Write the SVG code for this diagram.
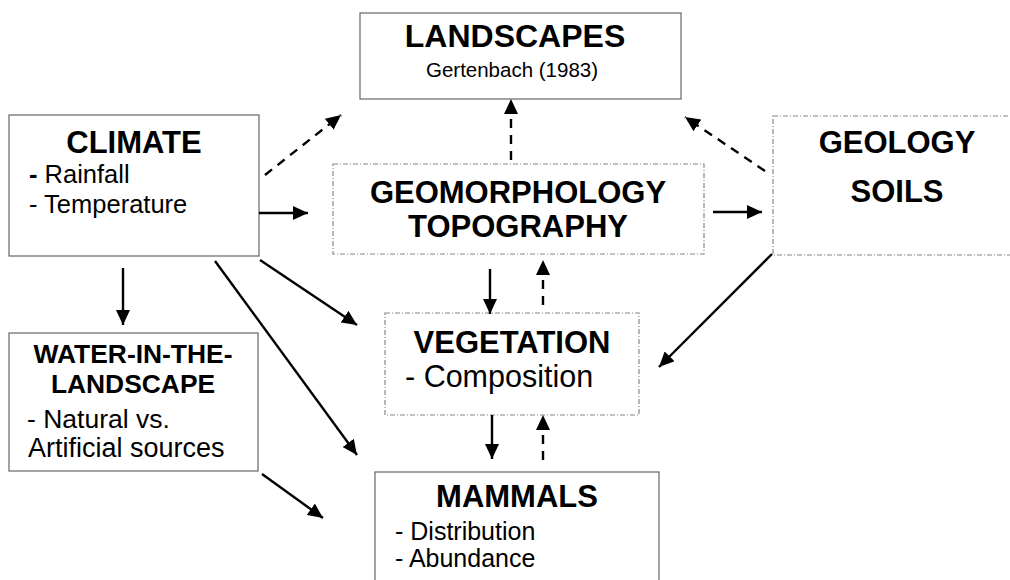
<svg xmlns="http://www.w3.org/2000/svg" width="1010" height="580" viewBox="0 0 1010 580">
<defs>
<marker id="ah" markerUnits="userSpaceOnUse" markerWidth="16" markerHeight="14" refX="15" refY="7" orient="auto">
<path d="M0,0 L15,7 L0,14 z" fill="#000"/>
</marker>
<style>
.box{fill:#fff;stroke:#666;stroke-width:1.2}
.dbox{fill:#fff;stroke:#888;stroke-width:1.2;stroke-dasharray:5 2 1 2}
.t{font-family:"Liberation Sans",Arial,sans-serif;font-weight:bold;font-size:31px;fill:#000;text-anchor:middle}
.tw{font-family:"Liberation Sans",Arial,sans-serif;font-weight:bold;font-size:26.4px;fill:#000;text-anchor:middle}
.s{font-family:"Liberation Sans",Arial,sans-serif;font-size:25.5px;fill:#000}
.c{stroke:#000;stroke-width:2.4;fill:none;marker-end:url(#ah)}
.d{stroke:#000;stroke-width:2.4;fill:none;stroke-dasharray:9 7;marker-end:url(#ah)}
</style>
</defs>
<rect width="1010" height="580" fill="#fff"/>
<g id="landscapes">
<rect class="box" x="360" y="13" width="321" height="86"/>
<text class="t" x="515" y="47" style="font-size:32px">LANDSCAPES</text>
<text class="s" x="512" y="77" text-anchor="middle" style="font-size:20.5px">Gertenbach (1983)</text>
</g>
<g id="climate">
<rect class="box" x="9" y="115" width="250" height="141"/>
<text class="t" x="134" y="153">CLIMATE</text>
<text class="s" x="29" y="183"><tspan font-weight="bold">-</tspan> Rainfall</text>
<text class="s" x="29" y="213">- Temperature</text>
</g>
<g id="geomorphology">
<rect class="dbox" x="333" y="164" width="371" height="90"/>
<text class="t" x="518" y="203">GEOMORPHOLOGY</text>
<text class="t" x="518" y="237">TOPOGRAPHY</text>
</g>
<g id="geology">
<rect class="dbox" x="773" y="116" width="260" height="139"/>
<text class="t" x="897" y="153">GEOLOGY</text>
<text class="t" x="897" y="202">SOILS</text>
</g>
<g id="water">
<rect class="box" x="9" y="333" width="249" height="138"/>
<text class="tw" x="133" y="363">WATER-IN-THE-</text>
<text class="tw" x="133" y="393">LANDSCAPE</text>
<text class="s" x="27" y="428" style="font-size:26.5px">- Natural vs.</text>
<text class="s" x="28" y="457" style="font-size:27px">Artificial sources</text>
</g>
<g id="vegetation">
<rect class="dbox" x="385" y="313" width="254" height="102"/>
<text class="t" x="512" y="353">VEGETATION</text>
<text class="s" x="405" y="387" style="font-size:30.5px">- Composition</text>
</g>
<g id="mammals">
<rect class="box" x="375" y="472" width="284" height="130"/>
<text class="t" x="517" y="507">MAMMALS</text>
<text class="s" x="395" y="540" style="font-size:25px">- Distribution</text>
<text class="s" x="395" y="567" style="font-size:25px">- Abundance</text>
</g>
<g id="connectors">
<line class="d" x1="265" y1="175" x2="341" y2="115"/>
<line class="d" x1="511" y1="160" x2="511" y2="99"/>
<line class="d" x1="765" y1="171" x2="685" y2="117"/>
<line class="c" x1="259" y1="213" x2="308" y2="213"/>
<line class="c" x1="713" y1="212" x2="762" y2="212"/>
<line class="c" x1="490" y1="269" x2="490" y2="314"/>
<line class="d" x1="543" y1="305" x2="543" y2="260"/>
<line class="c" x1="492" y1="415" x2="492" y2="459"/>
<line class="d" x1="543" y1="460" x2="543" y2="415"/>
<line class="c" x1="123" y1="268" x2="123" y2="325"/>
<line class="c" x1="260" y1="260" x2="357" y2="325"/>
<line class="c" x1="215" y1="261" x2="357" y2="455"/>
<line class="c" x1="262" y1="474" x2="323" y2="518"/>
<line class="c" x1="772" y1="254" x2="659" y2="367"/>
</g>
</svg>
